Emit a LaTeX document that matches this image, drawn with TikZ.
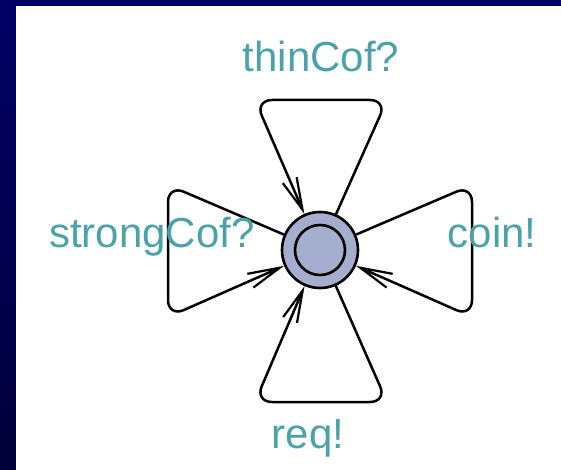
\documentclass[tikz,border=0pt]{standalone}
\usepackage{fontspec}
\setmainfont{Liberation Sans}
\usetikzlibrary{arrows.meta}
\definecolor{navy}{RGB}{0,0,102}
\definecolor{navydark}{RGB}{0,0,60}
\definecolor{lbl}{RGB}{75,162,168}
\definecolor{statefill}{RGB}{166,174,207}
\begin{document}
\begin{tikzpicture}[x=1pt,y=-1pt,
  state/.style={circle,draw=black,line width=2.6pt,fill=statefill,minimum size=76pt,inner sep=0pt},
  loopedge/.style={draw=black,line width=2.5pt,rounded corners=17pt},
  arr/.style={-{Straight Barb[length=32pt,width=15pt,line width=2.2pt]}},
  lab/.style={text=lbl,font=\fontsize{42pt}{42pt}\selectfont,anchor=base,inner sep=0pt}]
\useasboundingbox (0,0) rectangle (561,470);
\fill[navy] (0,0) rectangle (561,6);
\shade[top color=navy,bottom color=navydark] (0,0) rectangle (16,470);
\fill[white] (16,6) rectangle (561,470);
\node[state] (s) at (320,250) {};
\draw[line width=2.6pt] (s.center) circle (25pt);
\coordinate (t1) at (255,100);
\coordinate (t2) at (387,100);
\coordinate (l1) at (168,185);
\coordinate (l2) at (168,317);
\coordinate (r1) at (472,185);
\coordinate (r2) at (472,317);
\coordinate (b1) at (255,402);
\coordinate (b2) at (387,402);
\draw[loopedge,arr] (s) -- (t2) -- (t1) -- (s);
\draw[loopedge,arr] (s) -- (l1) -- (l2) -- (s);
\draw[loopedge,arr] (s) -- (r1) -- (r2) -- (s);
\draw[loopedge,arr] (s) -- (b2) -- (b1) -- (s);
\node[lab] (lt) at (321,72) {thinCof?};
\node[lab] (ll) at (152,247) {strongCof?};
\node[lab] (lr) at (492,247) {coin!};
\node[lab] (lb) at (308,448) {req!};
\end{tikzpicture}
\end{document}
